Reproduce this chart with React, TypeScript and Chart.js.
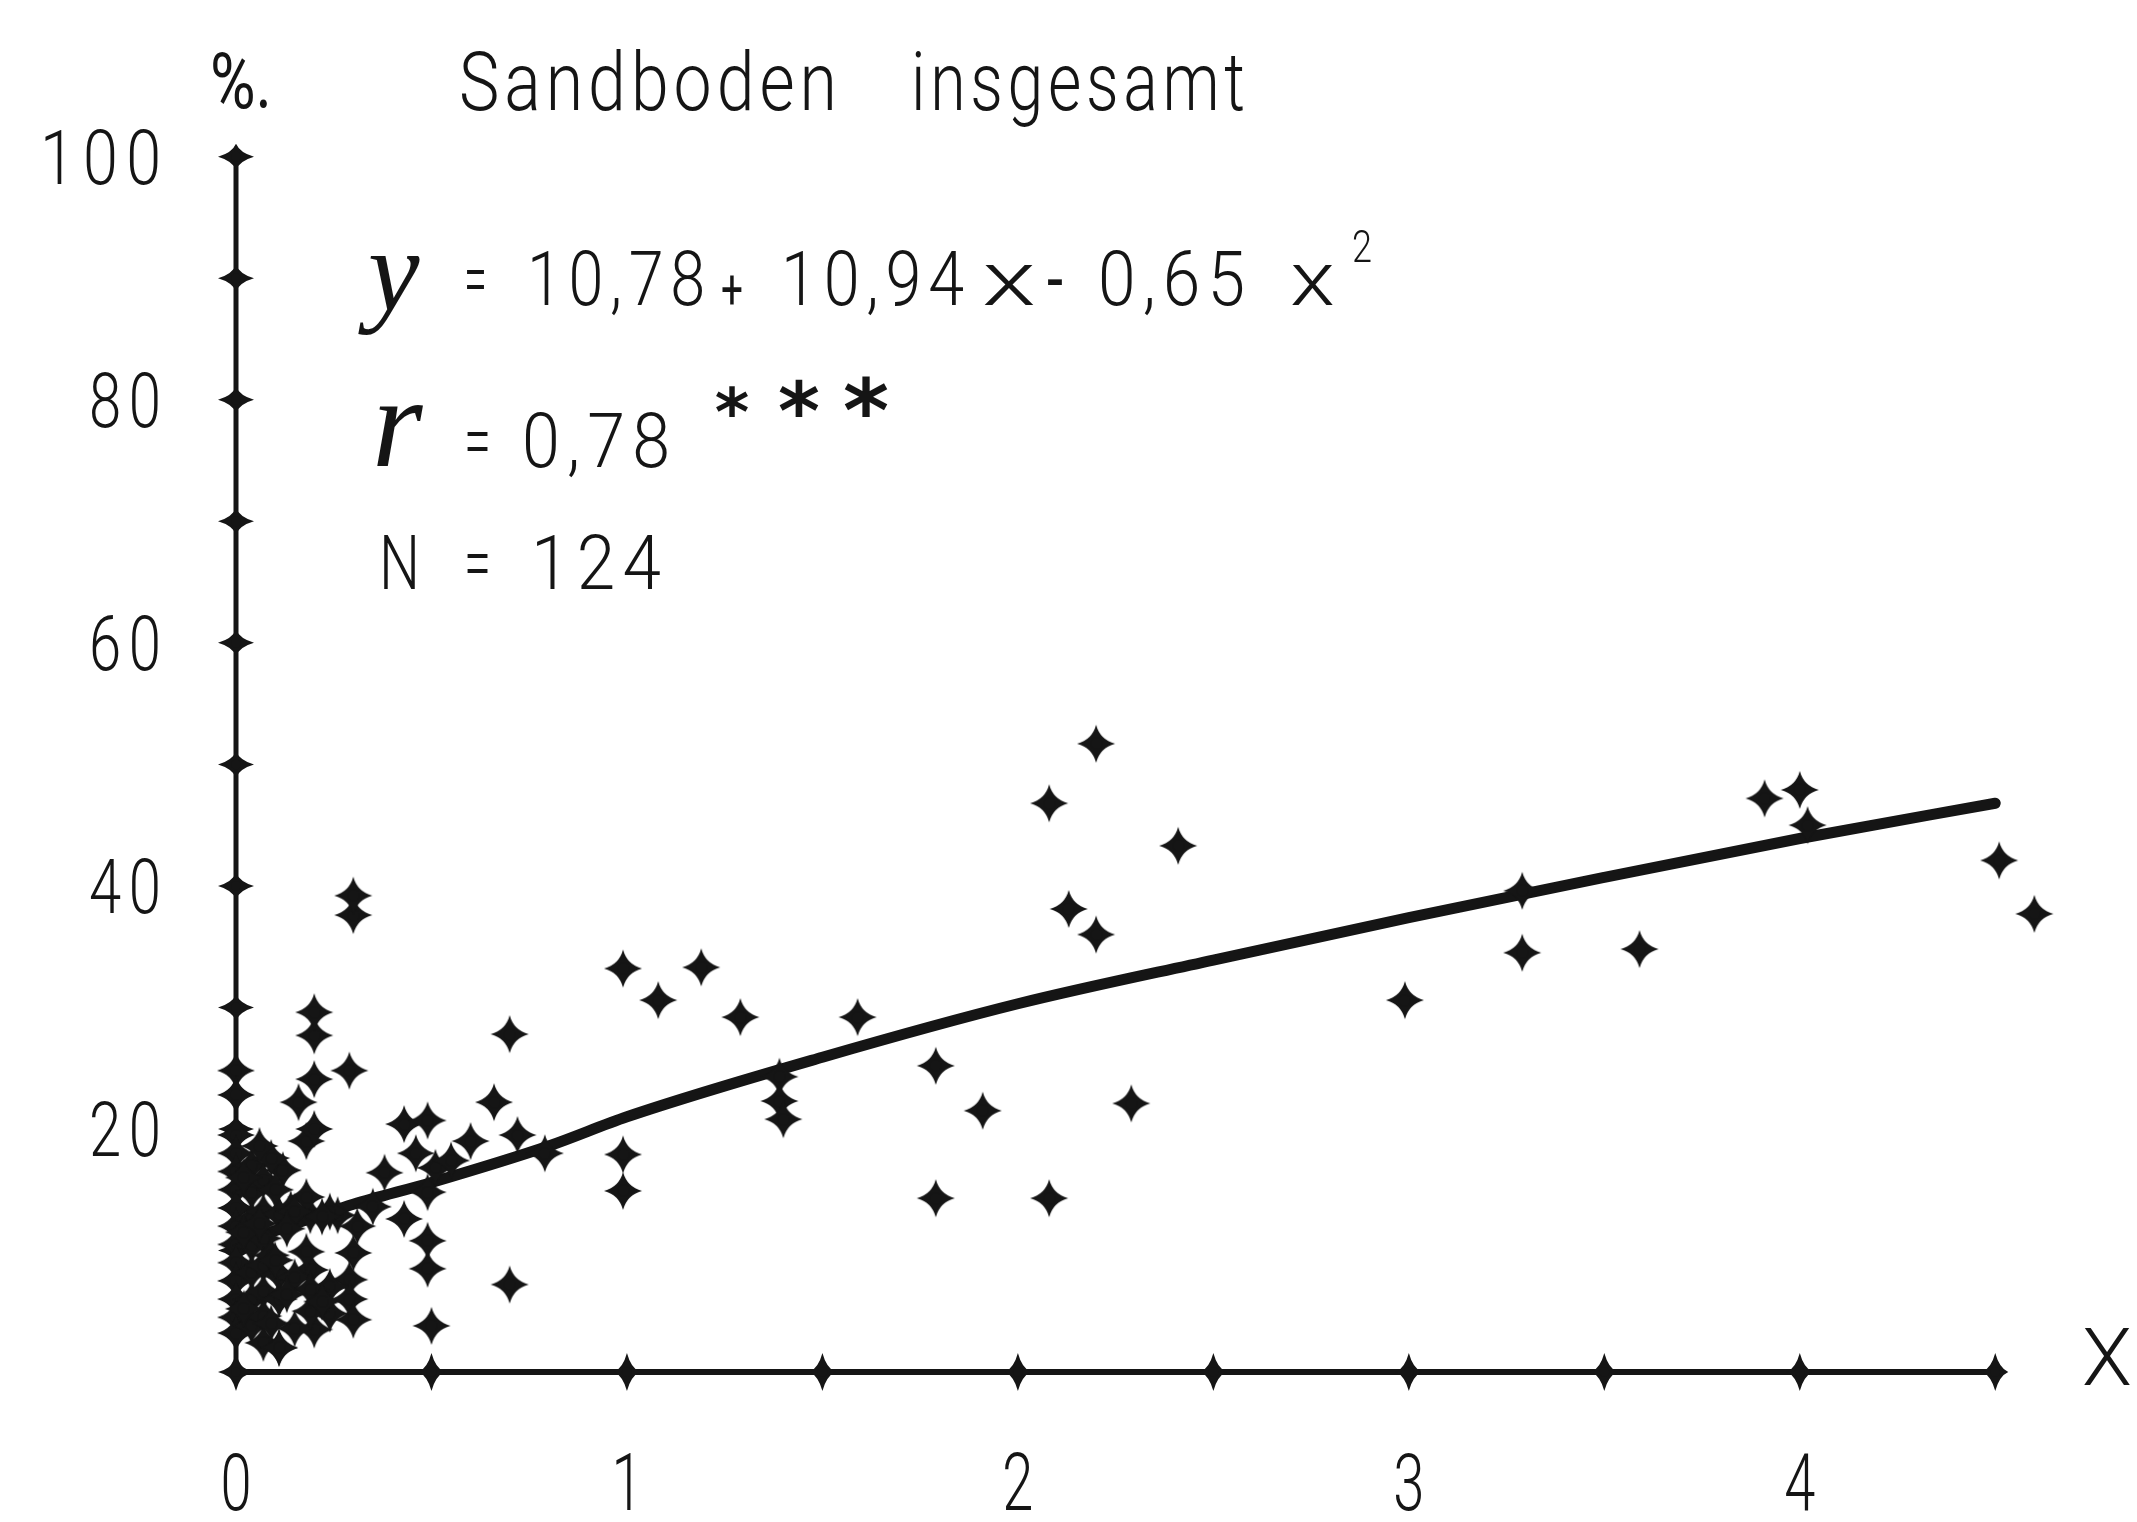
import React, { useEffect, useRef } from 'react';
import { Chart, registerables } from 'chart.js';

Chart.register(...registerables);

const CANVAS_W = 2137;
const CANVAS_H = 1522;
const INK = '#151515';

const pointX = [
  4.60, 4.51, 4.00, 3.91, 4.02, 3.59, 3.29, 3.29, 2.99, 2.41,
  2.29, 2.20, 2.08, 2.13, 2.20, 2.08, 1.79, 1.79, 1.91, 1.59,
  1.39, 1.39, 1.40, 1.29, 1.19, 1.08, 0.99, 0.99, 0.99, 0.79,
  0.70, 0.70, 0.50, 0.49, 0.49, 0.43, 0.49, 0.38, 0.51, 0.43,
  0.49, 0.60, 0.66, 0.72, 0.31, 0.30, 0.29, 0.29, 0.30, 0.26,
  0.19, 0.14, 0.19, 0.18, 0.20, 0.11, 0.18, 0.20, 0.18, 0.16,
  0.20, 0.29, 0.20, 0.20, 0.30, 0.30, 0.24, 0.24, 0.24, 0.12,
  0.00, 0.00, 0.00, 0.00, 0.00, 0.00, 0.00, 0.00, 0.00, 0.00,
  0.00, 0.00, 0.00, 0.00, 0.04, 0.04, 0.04, 0.04, 0.04, 0.04,
  0.04, 0.07, 0.07, 0.07, 0.07, 0.07, 0.07, 0.07, 0.11, 0.11,
  0.11, 0.11, 0.15, 0.15, 0.15, 0.19, 0.19, 0.02, 0.02, 0.02,
  0.09, 0.09, 0.09, 0.13, 0.13, 0.06, 0.06, 0.10, 0.10, 0.22,
  0.22, 0.35, 0.46, 0.55,
];
const pointY = [
  37.7, 42.1, 47.9, 47.2, 45.0, 34.8, 34.5, 39.6, 30.6, 43.3,
  22.1, 51.7, 46.8, 38.1, 36.0, 14.3, 14.3, 25.2, 21.5, 29.2,
  24.3, 22.3, 20.8, 29.2, 33.3, 30.6, 33.2, 17.9, 14.9, 18.0,
  27.8, 7.2, 3.8, 8.5, 10.8, 12.6, 14.8, 16.4, 16.8, 20.4,
  20.7, 19.0, 22.2, 19.5, 12.0, 9.8, 7.6, 6.0, 4.3, 12.9,
  12.9, 13.4, 8.4, 9.9, 3.5, 2.0, 19.0, 20.0, 14.4, 22.2,
  24.1, 24.8, 27.7, 29.6, 37.6, 39.2, 13.2, 7.0, 4.8, 16.6,
  24.8, 22.8, 19.5, 18.0, 16.5, 15.0, 13.5, 12.0, 10.5, 9.0,
  7.5, 6.0, 4.5, 3.2, 17.0, 14.8, 12.6, 10.4, 8.2, 6.0,
  3.8, 15.8, 13.2, 11.0, 8.8, 6.6, 4.6, 2.4, 13.0, 8.0,
  6.0, 2.0, 13.2, 7.8, 3.6, 5.0, 6.8, 16.0, 11.5, 5.2,
  17.6, 9.6, 4.0, 11.8, 6.4, 18.6, 12.2, 15.0, 9.2, 12.8,
  5.8, 13.6, 18.0, 17.4,
];

// Regression curve
const curveX = [0.08, 0.3, 0.5, 0.8, 1.0, 1.5, 2.0, 2.5, 3.0, 3.5, 4.0, 4.5];
const curveY = [11.4, 13.8, 15.6, 18.6, 21.0, 25.9, 30.3, 33.9, 37.4, 40.7, 43.9, 46.8];

// Axes
const yTickValues = [0, 10, 20, 30, 40, 50, 60, 70, 80, 90, 100];
const yLabelValues = [20, 40, 60, 80, 100];
const yLabelTexts = ['20', '40', '60', '80', '100'];
const xTickValues = [0, 0.5, 1, 1.5, 2, 2.5, 3, 3.5, 4, 4.5];
const xLabelValues = [0, 1, 2, 3, 4];
const xLabelTexts = ['0', '1', '2', '3', '4'];
const X_AXIS_END = 4.5;
const Y_AXIS_END = 100;

// Texts
const unitText = '%.';
const titleWords = ['Sandboden', 'insgesamt'];
const eqParts = ['=', '10,78', '+', '10,94', 'x', '-', '0,65', 'x'];
const eqExponent = '2';
const rParts = ['=', '0,78'];
const stars = ['*', '*', '*'];
const nParts = ['N', '=', '124'];
const xAxisTitle = 'X';

const FONT = '"Roboto", "DejaVu Sans", sans-serif';
const SCRIPT = '"Liberation Serif", "DejaVu Serif", serif';

function sparklePath(ctx: CanvasRenderingContext2D, cx: number, cy: number, rx: number, ry: number, k: number) {
  ctx.beginPath();
  ctx.moveTo(cx, cy - ry);
  ctx.quadraticCurveTo(cx + k, cy - k, cx + rx, cy);
  ctx.quadraticCurveTo(cx + k, cy + k, cx, cy + ry);
  ctx.quadraticCurveTo(cx - k, cy + k, cx - rx, cy);
  ctx.quadraticCurveTo(cx - k, cy - k, cx, cy - ry);
  ctx.closePath();
}

function drawSparkle(ctx: CanvasRenderingContext2D, cx: number, cy: number, rx: number, ry: number, k = 4.5, dot = 5) {
  sparklePath(ctx, cx, cy, rx, ry, k);
  ctx.fill();
  ctx.beginPath();
  ctx.arc(cx, cy, dot, 0, Math.PI * 2);
  ctx.fill();
}

function makeSparkleImage(): HTMLCanvasElement {
  const c = document.createElement('canvas');
  c.width = 40;
  c.height = 40;
  const g = c.getContext('2d')!;
  g.fillStyle = INK;
  drawSparkle(g, 20, 20, 19, 19, 4, 6);
  return c;
}

function drawFit(
  ctx: CanvasRenderingContext2D,
  text: string,
  left: number,
  baseline: number,
  width: number,
  font: string,
  spacing: number,
) {
  ctx.save();
  ctx.font = font;
  ctx.textAlign = 'left';
  ctx.textBaseline = 'alphabetic';
  const chars = Array.from(text);
  const ws = chars.map((c) => ctx.measureText(c).width);
  const total = ws.reduce((a, b) => a + b, 0) + spacing * (chars.length - 1);
  const s = width / total;
  ctx.translate(left, baseline);
  ctx.scale(s, 1);
  let x = 0;
  chars.forEach((c, i) => {
    ctx.fillText(c, x, 0);
    x += ws[i] + spacing;
  });
  ctx.restore();
}

function drawScaled(
  ctx: CanvasRenderingContext2D,
  text: string,
  cx: number,
  baseline: number,
  font: string,
  sx: number,
) {
  ctx.save();
  ctx.font = font;
  ctx.textAlign = 'center';
  ctx.textBaseline = 'alphabetic';
  ctx.translate(cx, baseline);
  ctx.scale(sx, 1);
  ctx.fillText(text, 0, 0);
  ctx.restore();
}

const decorPlugin = {
  id: 'decor',
  beforeDraw(chart: any) {
    const ctx = chart.ctx as CanvasRenderingContext2D;
    ctx.save();
    ctx.fillStyle = '#ffffff';
    ctx.fillRect(0, 0, chart.width, chart.height);
    ctx.restore();
  },
  beforeDatasetsDraw(chart: any) {
    const ctx = chart.ctx as CanvasRenderingContext2D;
    const xs = chart.scales.x;
    const ys = chart.scales.y;
    const x0 = xs.getPixelForValue(0);
    const y0 = ys.getPixelForValue(0);
    ctx.save();
    ctx.strokeStyle = INK;
    ctx.fillStyle = INK;
    ctx.lineCap = 'butt';
    ctx.lineWidth = 5;
    ctx.beginPath();
    ctx.moveTo(x0, y0);
    ctx.lineTo(x0, ys.getPixelForValue(Y_AXIS_END));
    ctx.stroke();
    ctx.lineWidth = 6;
    ctx.beginPath();
    ctx.moveTo(x0, y0);
    ctx.lineTo(xs.getPixelForValue(X_AXIS_END), y0);
    ctx.stroke();
    yTickValues.forEach((v) => drawSparkle(ctx, x0, ys.getPixelForValue(v), 18, 13, 4, 5));
    xTickValues.forEach((v) => drawSparkle(ctx, xs.getPixelForValue(v), y0, 13, 19, 4, 5));

    // tick labels
    yLabelValues.forEach((v, i) => {
      const t = yLabelTexts[i];
      const w = t.length === 3 ? 121 : 72;
      const py = ys.getPixelForValue(v);
      drawFit(ctx, t, 161 - w, py + 27, w, `300 76px ${FONT}`, 10);
    });
    xLabelValues.forEach((v, i) => {
      drawScaled(ctx, xLabelTexts[i], xs.getPixelForValue(v), 1510, `300 80px ${FONT}`, 0.7);
    });
    ctx.restore();
  },
  afterDatasetsDraw(chart: any) {
    const ctx = chart.ctx as CanvasRenderingContext2D;
    ctx.save();
    ctx.fillStyle = INK;
    const f = `300 76px ${FONT}`;
    // header
    drawFit(ctx, unitText, 210, 108, 62, `400 78px ${FONT}`, 0);
    drawFit(ctx, titleWords[0], 459, 110, 378, `300 82px ${FONT}`, 6);
    drawFit(ctx, titleWords[1], 911, 110, 334, `300 82px ${FONT}`, 6);

    // equation
    ctx.font = `italic 116px ${SCRIPT}`;
    ctx.textAlign = 'left';
    ctx.textBaseline = 'alphabetic';
    ctx.fillText('y', 368, 310);
    const eqPos = [
      [464, 23], [527, 178], [721, 22], [781, 183], [982, 54], [1047, 16], [1098, 147], [1290, 45],
    ];
    eqParts.forEach((p, i) => {
      const [l, w] = eqPos[i];
      if (p === '+') drawFit(ctx, p, l, 309, w, `400 56px ${FONT}`, 0);
      else if (p === '-') drawFit(ctx, p, l, 305, w, `400 76px ${FONT}`, 0);
      else drawFit(ctx, p, l, 305, w, f, 8);
    });
    drawFit(ctx, eqExponent, 1352, 262, 20, `300 44px ${FONT}`, 0);

    // r line
    ctx.font = `italic 130px ${SCRIPT}`;
    ctx.fillText('r', 372, 466);
    drawFit(ctx, rParts[0], 464, 467, 27, f, 0);
    drawFit(ctx, rParts[1], 522, 467, 148, f, 8);
    const starPos = [[732, 66], [799, 80], [866, 88]];
    stars.forEach((s, i) => {
      const [cx, size] = starPos[i];
      ctx.save();
      ctx.font = `bold ${size}px "DejaVu Sans", sans-serif`;
      ctx.textAlign = 'center';
      ctx.textBaseline = 'middle';
      ctx.fillText(s, cx, 418);
      ctx.restore();
    });

    // N line
    drawFit(ctx, nParts[0], 379, 589, 41, f, 0);
    drawFit(ctx, nParts[1], 464, 589, 27, f, 0);
    drawFit(ctx, nParts[2], 531, 589, 130, f, 8);

    // x axis title
    drawFit(ctx, xAxisTitle, 2082, 1385, 50, `300 80px ${FONT}`, 0);
    ctx.restore();
  },
};

export default function App() {
  const ref = useRef<HTMLCanvasElement | null>(null);

  useEffect(() => {
    if (!ref.current) return;
    const sparkle = makeSparkleImage();
    const points = pointX.map((x, i) => ({ x, y: pointY[i] }));
    const curve = curveX.map((x, i) => ({ x, y: curveY[i] }));
    const chart = new Chart(ref.current, {
      type: 'scatter',
      data: {
        datasets: [
          {
            type: 'line',
            label: 'Regression',
            data: curve,
            borderColor: INK,
            borderWidth: 11,
            borderCapStyle: 'round',
            pointRadius: 0,
            cubicInterpolationMode: 'monotone',
            fill: false,
            clip: false,
            order: 2,
          } as any,
          {
            type: 'scatter',
            label: 'Proben',
            data: points,
            pointStyle: sparkle as any,
            pointRadius: 3,
            pointHoverRadius: 3,
            backgroundColor: INK,
            borderColor: INK,
            clip: false,
            order: 1,
          } as any,
        ],
      },
      options: {
        responsive: false,
        animation: false,
        devicePixelRatio: 1,
        events: [],
        layout: { padding: { left: 236, right: 44, top: 96, bottom: 150 } },
        scales: {
          x: { type: 'linear', min: 0, max: 4.75, display: false },
          y: { type: 'linear', min: 0, max: 105, display: false },
        },
        plugins: {
          legend: { display: false },
          tooltip: { enabled: false },
        },
      },
      plugins: [decorPlugin],
    });
    return () => chart.destroy();
  }, []);

  return (
    <div style={{ position: 'absolute', left: 0, top: 0, width: CANVAS_W, height: CANVAS_H, background: '#fff' }}>
      <canvas ref={ref} width={CANVAS_W} height={CANVAS_H} style={{ display: 'block', width: CANVAS_W, height: CANVAS_H }} />
    </div>
  );
}
